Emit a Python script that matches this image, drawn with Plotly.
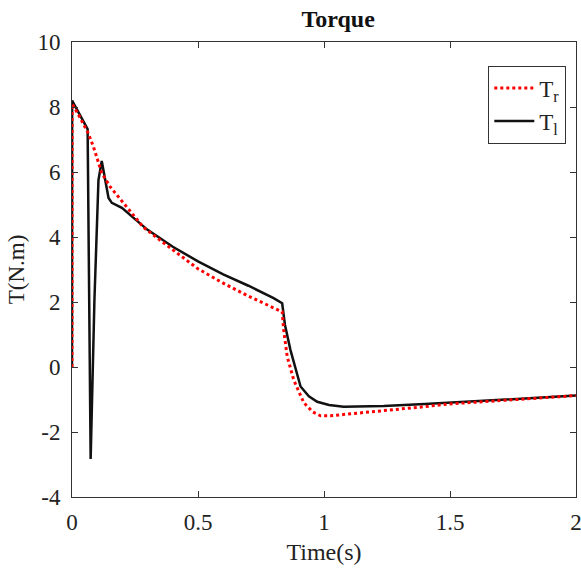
import plotly.graph_objects as go

# Reference torque T_r (red dotted)
t_r = [0.0, 0.0005, 0.03, 0.064, 0.085, 0.118, 0.151, 0.217, 0.283, 0.35, 0.4, 0.5, 0.6, 0.7, 0.8, 0.834,
       0.84, 0.854, 0.88, 0.92, 0.955, 0.986, 1.026, 1.08, 1.145, 1.22, 1.304, 1.4, 1.49, 1.6, 1.8, 2.0]
T_r = [0.0, 8.1, 7.7, 7.2, 6.78, 5.97, 5.55, 4.93, 4.3, 3.9, 3.6, 3.02, 2.58, 2.18, 1.82, 1.7,
       1.14, 0.32, -0.4, -1.1, -1.38, -1.5, -1.5, -1.46, -1.42, -1.36, -1.3, -1.22, -1.14, -1.08, -0.98, -0.88]

# Load torque T_l (black solid)
t_l = [0.0, 0.0005, 0.062, 0.074, 0.089, 0.105, 0.118, 0.13, 0.145, 0.158, 0.198, 0.25, 0.3, 0.4, 0.5, 0.6,
       0.7, 0.8, 0.834, 0.845, 0.867, 0.907, 0.94, 0.973, 1.02, 1.078, 1.15, 1.237, 1.4, 1.49, 1.6, 1.8, 2.0]
T_l = [0.0, 8.2, 7.32, -2.83, 2.06, 5.75, 6.34, 5.8, 5.2, 5.05, 4.9, 4.55, 4.22, 3.7, 3.25, 2.85,
       2.5, 2.12, 1.96, 1.3, 0.52, -0.6, -0.9, -1.07, -1.17, -1.22, -1.22, -1.2, -1.14, -1.1, -1.05, -0.97, -0.88]

x_ticks = [0, 0.5, 1, 1.5, 2]
x_labels = ["0", "0.5", "1", "1.5", "2"]
y_ticks = [-4, -2, 0, 2, 4, 6, 8, 10]
y_labels = ["-4", "-2", "0", "2", "4", "6", "8", "10"]

FONT = "Liberation Serif, Times New Roman, serif"

fig = go.Figure()
fig.add_trace(go.Scatter(x=t_l, y=T_l, mode="lines", name="T<sub>l</sub>",
                         line=dict(color="#111111", width=2.5)))
fig.add_trace(go.Scatter(x=t_r, y=T_r, mode="lines", name="T<sub>r</sub>",
                         line=dict(color="#ff0000", width=3, dash="dot")))

axis_common = dict(showline=True, linecolor="#333333", linewidth=1, mirror="ticks",
                   ticks="inside", ticklen=6, tickcolor="#333333", showgrid=False, zeroline=False,
                   automargin=False, ticklabeloverflow="allow",
                   tickfont=dict(family=FONT, size=23, color="#222222"))

fig.update_layout(
    width=581, height=575,
    margin=dict(l=72, r=5, t=42, b=78),
    paper_bgcolor="white", plot_bgcolor="white",
    title=dict(text="<b>Torque</b>", x=0.582, xanchor="center", y=0.968, yanchor="middle",
               font=dict(family=FONT, size=24, color="#111111")),
    xaxis=dict(range=[0, 2], tickvals=x_ticks, ticktext=x_labels, ticklabelstandoff=4,
               title=dict(text="Time(s)", font=dict(family=FONT, size=24, color="#222222"), standoff=9),
               **axis_common),
    yaxis=dict(range=[-4, 10], tickvals=y_ticks, ticktext=y_labels, ticklabelstandoff=6,
               title=dict(text="T(N.m)", font=dict(family=FONT, size=23, color="#222222"), standoff=6),
               **axis_common),
    legend=dict(x=0.826, y=0.948, xanchor="left", yanchor="top", traceorder="reversed",
                bordercolor="#333333", borderwidth=1, bgcolor="white",
                font=dict(family=FONT, size=23, color="#222222"),
                itemwidth=40, tracegroupgap=4),
    showlegend=True,
)

fig.write_html("out.html", config={"displayModeBar": False},
               post_script="document.body.style.margin='0';document.body.style.overflow='hidden';")
